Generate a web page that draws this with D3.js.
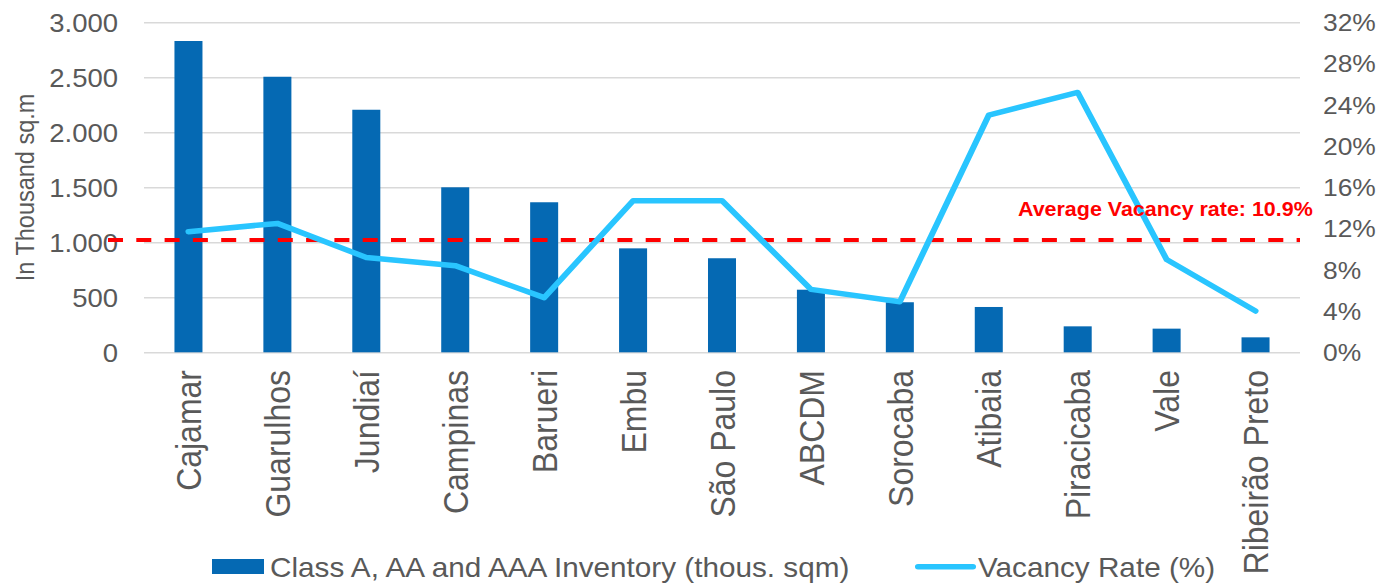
<!DOCTYPE html>
<html>
<head>
<meta charset="utf-8">
<script src="https://cdn.jsdelivr.net/npm/d3@7/dist/d3.min.js"></script>
<style>
  html, body { margin: 0; padding: 0; background: #ffffff; }
  svg { display: block; }
  text { font-family: "Liberation Sans", Arial, Helvetica, sans-serif; }
</style>
</head>
<body>
<svg id="chart"></svg>
<script>
// Industrial inventory and vacancy by region
const categories = ["Cajamar", "Guarulhos", "Jundiaí", "Campinas", "Barueri", "Embu",
  "São Paulo", "ABCDM", "Sorocaba", "Atibaia", "Piracicaba", "Vale", "Ribeirão Preto"];
const inventory = [2830, 2505, 2205, 1500, 1364, 945, 855, 569, 455, 412, 236, 215, 136];
const vacancy = [11.7, 12.5, 9.2, 8.4, 5.3, 14.7, 14.7, 6.1, 4.9, 23.0, 25.2, 9.0, 4.0];
const leftTicks = [0, 500, 1000, 1500, 2000, 2500, 3000];
const rightTicks = [0, 4, 8, 12, 16, 20, 24, 28, 32];
const averageVacancy = 10.9;
const seriesNames = ["Class A, AA and AAA Inventory (thous. sqm)", "Vacancy Rate (%)"];
const axisTitle = "In Thousand sq.m";

// The drawing is laid out in a slightly narrower space and stretched to the page width.
const PAGE_W = 1382, PAGE_H = 586, SX = 1.1;
const W = PAGE_W / SX;
const px = v => v / SX; // page x -> drawing x

const plot = { left: px(144), right: px(1300), top: 22.3, bottom: 352.3 };

const svg = d3.select("#chart")
  .attr("width", PAGE_W).attr("height", PAGE_H)
  .attr("viewBox", `0 0 ${W} ${PAGE_H}`)
  .attr("preserveAspectRatio", "none");

const x = d3.scaleBand().domain(categories)
  .range([plot.left, plot.right])
  .paddingInner(0.685).paddingOuter(0.685 / 2);
const yL = d3.scaleLinear().domain([0, 3000]).range([plot.bottom, plot.top]);
const yR = d3.scaleLinear().domain([0, 32]).range([plot.bottom, plot.top]);

const ptBR = d3.formatLocale({ decimal: ",", thousands: ".", grouping: [3], currency: ["", ""] });
const fmtThousands = ptBR.format(",");

const grey = "#595959";

// left axis with gridlines
const gLeft = svg.append("g")
  .attr("transform", `translate(${plot.left},0)`)
  .call(d3.axisLeft(yL).tickValues(leftTicks)
    .tickSize(-(plot.right - plot.left)).tickPadding(px(26))
    .tickFormat(fmtThousands));
gLeft.select(".domain").remove();
gLeft.selectAll(".tick line").attr("stroke", "#d9d9d9").attr("stroke-width", 1.5);
gLeft.selectAll(".tick text").attr("fill", grey).attr("font-size", 25).attr("dy", "0.35em");

// right axis
const gRight = svg.append("g")
  .attr("transform", `translate(${plot.right},0)`)
  .call(d3.axisRight(yR).tickValues(rightTicks)
    .tickSize(0).tickPadding(px(23))
    .tickFormat(d => d + "%"));
gRight.select(".domain").remove();
gRight.selectAll(".tick text").attr("fill", grey).attr("font-size", 24).attr("dy", "0.35em");

// axis title
svg.append("text")
  .attr("transform", `translate(${px(34)},${187.5}) rotate(-90)`)
  .attr("text-anchor", "middle")
  .attr("fill", grey).attr("font-size", 23.5)
  .text(axisTitle);

// inventory bars
svg.append("g").selectAll("rect")
  .data(categories)
  .join("rect")
  .attr("x", d => x(d))
  .attr("width", x.bandwidth())
  .attr("y", (d, i) => yL(inventory[i]))
  .attr("height", (d, i) => yL(0) - yL(inventory[i]))
  .attr("fill", "#0569b3");

// average vacancy reference line
const yAvg = yR(averageVacancy);
svg.append("line")
  .attr("x1", px(108)).attr("x2", plot.right)
  .attr("y1", yAvg).attr("y2", yAvg)
  .attr("stroke", "#ff0000").attr("stroke-width", 4)
  .attr("stroke-dasharray", `${px(15)} ${px(13.3)}`);

// vacancy line
const line = d3.line()
  .x((d, i) => x(categories[i]) + x.bandwidth() / 2)
  .y(d => yR(d));
svg.append("path")
  .datum(vacancy)
  .attr("d", line)
  .attr("fill", "none")
  .attr("stroke", "#29c5ff")
  .attr("stroke-width", 5.5)
  .attr("stroke-linejoin", "round")
  .attr("stroke-linecap", "round");

// reference line label
svg.append("text")
  .attr("x", px(1018)).attr("y", 216)
  .attr("fill", "#ff0000").attr("font-weight", "bold").attr("font-size", 19.5)
  .text(`Average Vacancy rate: ${averageVacancy}%`);

// category labels
svg.append("g").selectAll("text")
  .data(categories)
  .join("text")
  .attr("transform", d => `translate(${x(d) + x.bandwidth() / 2},370) rotate(-90)`)
  .attr("text-anchor", "end")
  .attr("dy", "0.36em")
  .attr("fill", grey).attr("font-size", 32)
  .text(d => d);

// legend
const legend = svg.append("g");
legend.append("rect")
  .attr("x", px(212)).attr("y", 559)
  .attr("width", px(52)).attr("height", 15)
  .attr("fill", "#0569b3");
legend.append("text")
  .attr("x", px(270)).attr("y", 577)
  .attr("fill", grey).attr("font-size", 27)
  .text(seriesNames[0]);
legend.append("line")
  .attr("x1", px(918)).attr("x2", px(973))
  .attr("y1", 566.7).attr("y2", 566.7)
  .attr("stroke", "#29c5ff").attr("stroke-width", 5.5)
  .attr("stroke-linecap", "round");
legend.append("text")
  .attr("x", px(978)).attr("y", 577)
  .attr("fill", grey).attr("font-size", 27)
  .text(seriesNames[1]);
</script>
</body>
</html>
